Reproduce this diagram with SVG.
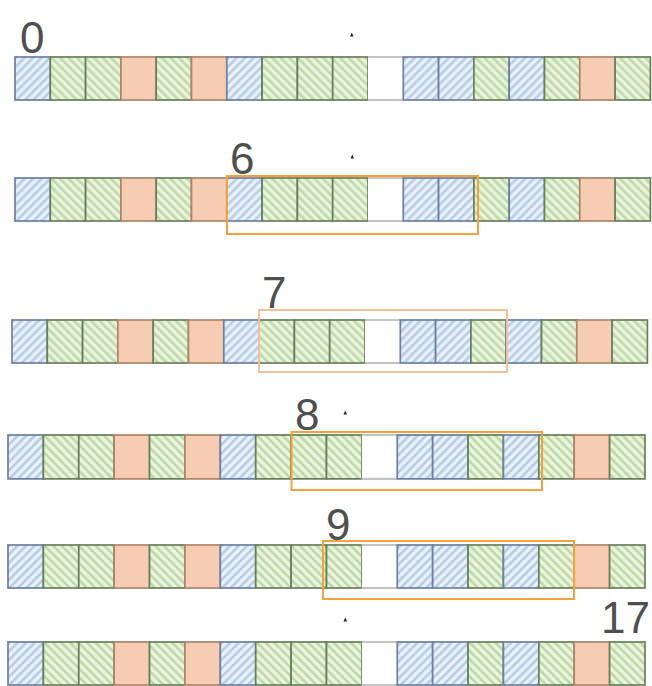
<svg xmlns="http://www.w3.org/2000/svg" xmlns:xlink="http://www.w3.org/1999/xlink" width="652" height="686" viewBox="0 0 652 686">
<style>
.b{fill:url(#hb);stroke:#6e7f9f;stroke-width:1.7}
.g{fill:url(#hg);stroke:#687f5c;stroke-width:1.7}
.o{fill:#f6cdb2;stroke:#b08468;stroke-width:1.7}
.w{fill:#ffffff;stroke:none}
.wl{stroke:#c4c4c4;stroke-width:2}
.num{font-family:"Liberation Sans",Arial,sans-serif;font-size:44px;fill:#4f4f4f}
.win{fill:none;stroke:#f5a23a;stroke-width:2}
.dot{fill:#222}
</style>
<defs>
<pattern id="hb" width="6" height="6" patternUnits="userSpaceOnUse" patternTransform="rotate(45)">
<rect width="6" height="6" fill="#e9f1fb"/><rect width="2.6" height="6" fill="#b7cde8"/>
</pattern>
<pattern id="hg" width="6" height="6" patternUnits="userSpaceOnUse" patternTransform="rotate(-45)">
<rect width="6" height="6" fill="#eaf3dd"/><rect width="2.6" height="6" fill="#bfd9a8"/>
</pattern>
<g id="row">
<rect class="b" x="0" y="0" width="35.3" height="43"/>
<rect class="g" x="35.3" y="0" width="35.3" height="43"/>
<rect class="g" x="70.6" y="0" width="35.3" height="43"/>
<rect class="o" x="105.9" y="0" width="35.3" height="43"/>
<rect class="g" x="141.2" y="0" width="35.3" height="43"/>
<rect class="o" x="176.5" y="0" width="35.3" height="43"/>
<rect class="b" x="211.8" y="0" width="35.3" height="43"/>
<rect class="g" x="247.1" y="0" width="35.3" height="43"/>
<rect class="g" x="282.4" y="0" width="35.3" height="43"/>
<rect class="g" x="317.7" y="0" width="35.3" height="43"/>
<rect class="w" x="353" y="0" width="35.3" height="43"/>
<line class="wl" x1="353" y1="0" x2="388.3" y2="0"/>
<line class="wl" x1="353" y1="43" x2="388.3" y2="43"/>
<rect class="b" x="388.3" y="0" width="35.3" height="43"/>
<rect class="b" x="423.6" y="0" width="35.3" height="43"/>
<rect class="g" x="458.9" y="0" width="35.3" height="43"/>
<rect class="b" x="494.2" y="0" width="35.3" height="43"/>
<rect class="g" x="529.5" y="0" width="35.3" height="43"/>
<rect class="o" x="564.8" y="0" width="35.3" height="43"/>
<rect class="g" x="600.1" y="0" width="35.3" height="43"/>
</g>
</defs>
<rect width="652" height="686" fill="#ffffff"/>
<g id="row1"><use xlink:href="#row" href="#row" transform="translate(15,57)"/></g>
<g id="row2"><use xlink:href="#row" href="#row" transform="translate(15,178)"/></g>
<g id="row3"><use xlink:href="#row" href="#row" transform="translate(12,320)"/></g>
<g id="row4"><use xlink:href="#row" href="#row" transform="translate(8,435) scale(1.0025,1.02)"/></g>
<g id="row5"><use xlink:href="#row" href="#row" transform="translate(8,545) scale(1.0025,1)"/></g>
<g id="row6"><use xlink:href="#row" href="#row" transform="translate(8,642) scale(1.0025,1)"/></g>
<g id="windows">
<rect class="win" x="227" y="176" width="251" height="58"/>
<rect class="win" x="259" y="310" width="248" height="62" style="stroke:#f4c196"/>
<rect class="win" x="291.5" y="432" width="250.5" height="58"/>
<rect class="win" x="323" y="541" width="251" height="58"/>
</g>
<g id="labels">
<text class="num" x="20" y="53">0</text>
<text class="num" x="230" y="174">6</text>
<text class="num" x="262" y="308">7</text>
<text class="num" x="295" y="430">8</text>
<text class="num" x="326" y="540">9</text>
<text class="num" x="650" y="633" text-anchor="end">17</text>
</g>
<g id="marks">
<polygon class="dot" points="350,36.5 353.5,36.5 351.8,32.5"/>
<polygon class="dot" points="350.5,158.5 354,158.5 352.3,154.5"/>
<polygon class="dot" points="343.5,414.5 347,414.5 345.3,410.5"/>
<polygon class="dot" points="343.5,621.5 347,621.5 345.3,617.5"/>
</g>
</svg>
